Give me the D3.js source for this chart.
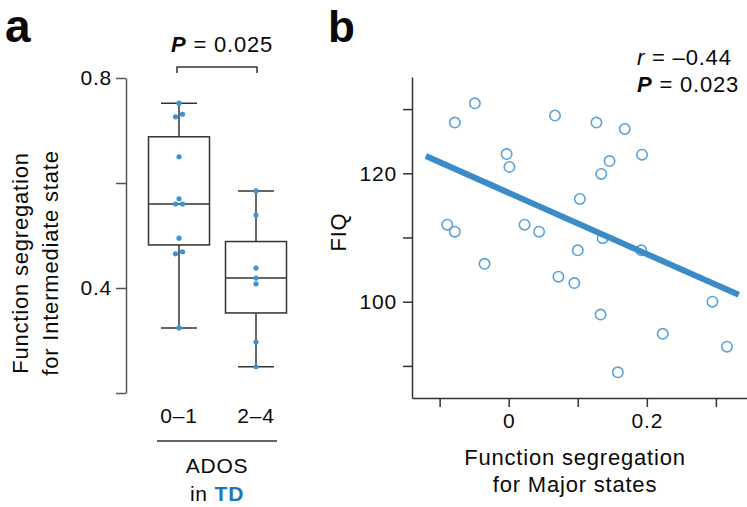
<!DOCTYPE html>
<html>
<head>
<meta charset="utf-8">
<script src="https://cdn.jsdelivr.net/npm/d3@7"></script>
<style>
  body { margin: 0; background: #fff; }
  svg text { font-family: "Liberation Sans", Arial, sans-serif; fill: #0a0a0a; letter-spacing: 0.8px; }
</style>
</head>
<body>
<svg id="chart" width="747" height="507"></svg>
<script>
// panel a : ADOS groups in TD
const groups = ["0–1", "2–4"]
const groupLow = [0.324, 0.465, 0.469, 0.495, 0.560, 0.560, 0.570, 0.650, 0.726, 0.731, 0.752]
const groupHigh = [0.250, 0.297, 0.408, 0.419, 0.438, 0.539, 0.585]
const aTicks = [0.2, 0.4, 0.6, 0.8]
const aTickLabels = [0.4, 0.8]

// panel b : scatter
const segMajor = [-0.049, -0.078, 0.067, 0.127, 0.168, -0.003, 0.001, 0.193, 0.146, 0.134, 0.103,
  -0.089, -0.078, 0.023, 0.044, 0.136, 0.100, 0.192, -0.035, 0.072, 0.095, 0.133, 0.223, 0.158, 0.295, 0.316]
const fiq = [130.9, 127.9, 129.0, 127.9, 126.9, 123.0, 121.0, 122.9, 121.9, 119.9, 116.0,
  112.0, 110.9, 112.0, 110.9, 109.9, 108.0, 108.0, 105.9, 103.9, 102.9, 98.0, 95.0, 89.0, 100.0, 93.0]
const fitRange = [-0.12, 0.333]
const bXTicks = [-0.1, 0, 0.1, 0.2, 0.3]
const bXTickLabels = [0, 0.2]
const bYTicks = [90, 100, 110, 120, 130]
const bYTickLabels = [100, 120]

const blue = "#3f93d1"
const svg = d3.select("#chart")

// ---------- panel a ----------
const yA = d3.scaleLinear().domain([0.2, 0.8]).range([393, 78])
const xA = d3.scalePoint().domain(groups).range([179, 256])

const axA = svg.append("g")
  .attr("transform", "translate(126,0)")
  .call(d3.axisLeft(yA).tickValues(aTicks).tickSize(10).tickSizeOuter(0)
    .tickFormat(d => aTickLabels.includes(d) ? d3.format(".1f")(d) : ""))
axA.select(".domain").attr("stroke", "#555").attr("stroke-width", 1.5)
axA.selectAll(".tick line").attr("stroke", "#555").attr("stroke-width", 1.5)
axA.selectAll(".tick text").attr("font-size", 21).attr("x", -14)

const boxData = [groupLow, groupHigh].map((vals, i) => {
  const s = vals.slice().sort(d3.ascending)
  return {
    name: groups[i], vals: s,
    q1: d3.quantile(s, 0.25), med: d3.quantile(s, 0.5), q3: d3.quantile(s, 0.75),
    lo: d3.min(s), hi: d3.max(s)
  }
})

const boxW = 61, capW = 36
const boxes = svg.append("g").selectAll("g").data(boxData).join("g")
  .attr("stroke", "#333").attr("stroke-width", 1.5).attr("fill", "none")

// whiskers
boxes.append("line")
  .attr("x1", d => xA(d.name)).attr("x2", d => xA(d.name))
  .attr("y1", d => yA(d.hi)).attr("y2", d => yA(d.q3))
boxes.append("line")
  .attr("x1", d => xA(d.name)).attr("x2", d => xA(d.name))
  .attr("y1", d => yA(d.q1)).attr("y2", d => yA(d.lo))
boxes.append("line")
  .attr("x1", d => xA(d.name) - capW / 2).attr("x2", d => xA(d.name) + capW / 2)
  .attr("y1", d => yA(d.hi)).attr("y2", d => yA(d.hi))
boxes.append("line")
  .attr("x1", d => xA(d.name) - capW / 2).attr("x2", d => xA(d.name) + capW / 2)
  .attr("y1", d => yA(d.lo)).attr("y2", d => yA(d.lo))
// box + median
boxes.append("rect")
  .attr("x", d => xA(d.name) - boxW / 2).attr("width", boxW)
  .attr("y", d => yA(d.q3)).attr("height", d => yA(d.q1) - yA(d.q3))
boxes.append("line")
  .attr("x1", d => xA(d.name) - boxW / 2).attr("x2", d => xA(d.name) + boxW / 2)
  .attr("y1", d => yA(d.med)).attr("y2", d => yA(d.med))

// dots, spread sideways when they sit on top of each other
boxData.forEach(b => {
  const pts = []
  let cluster = []
  const flush = () => {
    cluster.forEach((v, k) => pts.push({ v, off: (k - (cluster.length - 1) / 2) * 7 }))
    cluster = []
  }
  b.vals.forEach(v => {
    if (cluster.length && Math.abs(yA(v) - yA(cluster[cluster.length - 1])) > 4) flush()
    cluster.push(v)
  })
  flush()
  svg.append("g").selectAll("circle").data(pts).join("circle")
    .attr("cx", d => xA(b.name) + d.off)
    .attr("cy", d => yA(d.v))
    .attr("r", 2.6)
    .attr("fill", blue)
})

// significance bracket
svg.append("path")
  .attr("d", `M${xA(groups[0]) - 2},73V67H${xA(groups[1]) + 1}V73`)
  .attr("fill", "none").attr("stroke", "#333").attr("stroke-width", 1.5)
const pA = svg.append("text").attr("x", 222).attr("y", 52).attr("text-anchor", "middle").attr("font-size", 22)
pA.append("tspan").attr("font-weight", "bold").attr("font-style", "italic").text("P")
pA.append("tspan").text(" = 0.025")

// group labels
svg.append("g").selectAll("text").data(groups).join("text")
  .attr("x", d => xA(d)).attr("y", 423).attr("text-anchor", "middle").attr("font-size", 21)
  .text(d => d)
svg.append("line").attr("x1", 157).attr("x2", 277).attr("y1", 441).attr("y2", 441)
  .attr("stroke", "#333").attr("stroke-width", 1.5)
svg.append("text").attr("x", 217).attr("y", 473).attr("text-anchor", "middle").attr("font-size", 21).text("ADOS")
const inTD = svg.append("text").attr("x", 217).attr("y", 501).attr("text-anchor", "middle").attr("font-size", 21)
inTD.append("tspan").text("in ")
inTD.append("tspan").attr("font-weight", "bold").style("fill", "#1b76bd").text("TD")

// y label
const yLab = svg.append("text").attr("transform", "translate(28,263) rotate(-90)")
  .attr("text-anchor", "middle").attr("font-size", 22)
yLab.append("tspan").attr("x", 0).attr("y", 0).text("Function segregation")
yLab.append("tspan").attr("x", 0).attr("y", 30).text("for Intermediate state")

svg.append("text").attr("x", 5).attr("y", 42).attr("font-size", 46).attr("font-weight", "bold").text("a")

// ---------- panel b ----------
const xB = d3.scaleLinear().domain([-0.14, 0.345]).range([412, 747])
const yB = d3.scaleLinear().domain([85, 135]).range([398, 77])

const axBx = svg.append("g")
  .attr("transform", "translate(0,398)")
  .call(d3.axisBottom(xB).tickValues(bXTicks).tickSize(9).tickSizeOuter(0)
    .tickFormat(d => bXTickLabels.includes(d) ? (d === 0 ? "0" : d3.format(".1f")(d)) : ""))
const axBy = svg.append("g")
  .attr("transform", "translate(412,0)")
  .call(d3.axisLeft(yB).tickValues(bYTicks).tickSize(9).tickSizeOuter(0)
    .tickFormat(d => bYTickLabels.includes(d) ? d : ""))
;[axBx, axBy].forEach(ax => {
  ax.select(".domain").attr("stroke", "#333").attr("stroke-width", 1.5)
  ax.selectAll(".tick line").attr("stroke", "#333").attr("stroke-width", 1.5)
  ax.selectAll(".tick text").attr("font-size", 21)
})
axBx.selectAll(".tick text").attr("y", 15)
axBy.selectAll(".tick text").attr("x", -15)

// least squares fit
const mx = d3.mean(segMajor), my = d3.mean(fiq)
const sxy = d3.sum(segMajor, (x, i) => (x - mx) * (fiq[i] - my))
const sxx = d3.sum(segMajor, x => (x - mx) ** 2)
const slope = sxy / sxx, icpt = my - slope * mx

svg.append("g").selectAll("circle").data(segMajor).join("circle")
  .attr("cx", d => xB(d))
  .attr("cy", (d, i) => yB(fiq[i]))
  .attr("r", 5.2)
  .attr("fill", "none").attr("stroke", "#5aa3da").attr("stroke-width", 1.6)

svg.append("line")
  .attr("x1", xB(fitRange[0])).attr("y1", yB(icpt + slope * fitRange[0]))
  .attr("x2", xB(fitRange[1])).attr("y2", yB(icpt + slope * fitRange[1]))
  .attr("stroke", "#3b8bc8").attr("stroke-width", 6)

const rT = svg.append("text").attr("x", 637).attr("y", 65).attr("font-size", 22)
rT.append("tspan").attr("font-style", "italic").text("r")
rT.append("tspan").text(" = –0.44")
const pB = svg.append("text").attr("x", 637).attr("y", 92).attr("font-size", 22)
pB.append("tspan").attr("font-weight", "bold").attr("font-style", "italic").text("P")
pB.append("tspan").text(" = 0.023")

svg.append("text").attr("transform", "translate(346,232) rotate(-90)")
  .attr("text-anchor", "middle").attr("font-size", 22).text("FIQ")

const xLab = svg.append("text").attr("text-anchor", "middle").attr("font-size", 22)
xLab.append("tspan").attr("x", 575).attr("y", 465).text("Function segregation")
xLab.append("tspan").attr("x", 575).attr("y", 492).text("for Major states")

svg.append("text").attr("x", 328).attr("y", 42).attr("font-size", 44).attr("font-weight", "bold").text("b")
</script>
</body>
</html>
